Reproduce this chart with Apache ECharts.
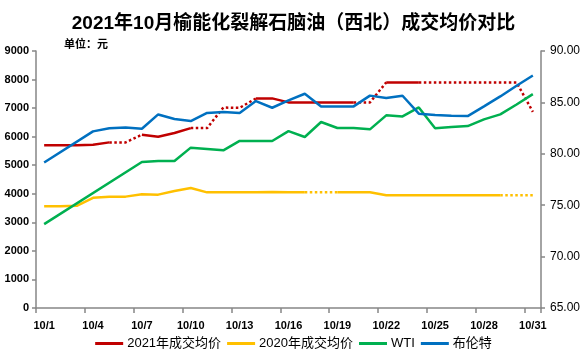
<!DOCTYPE html>
<html>
<head>
<meta charset="utf-8">
<script src="https://cdn.jsdelivr.net/npm/echarts@6/dist/echarts.min.js"></script>
<style>
html,body{margin:0;padding:0;background:#fff;}
#chart{width:587px;height:360px;}
</style>
</head>
<body>
<div id="chart"></div>
<script>
const days = ['10/1','10/2','10/3','10/4','10/5','10/6','10/7','10/8','10/9','10/10','10/11','10/12','10/13','10/14','10/15','10/16','10/17','10/18','10/19','10/20','10/21','10/22','10/23','10/24','10/25','10/26','10/27','10/28','10/29','10/30','10/31'];

const price2021 = [5700,5700,5700,5720,5800,5800,6070,6000,6130,6300,6300,7020,7010,7340,7340,7200,7200,7200,7200,7200,7200,7900,7900,7900,7900,7900,7900,7900,7900,7900,6870];
// day ranges (1-based) drawn dotted
const dotted2021 = [[5,7],[10,14],[20,22],[24,31]];

const price2020 = [3560,3560,3580,3860,3900,3900,3980,3970,4100,4200,4050,4050,4050,4050,4060,4050,4050,4050,4050,4050,4050,3950,3950,3950,3950,3950,3950,3950,3950,3950,3950];
const dotted2020 = [[17,19],[29,31]];

const wti = [73.16,null,null,null,null,null,79.20,79.30,79.30,80.60,80.47,80.34,81.25,81.25,81.25,82.21,81.63,83.09,82.51,82.51,82.38,83.74,83.64,84.51,82.48,82.60,82.70,83.35,83.83,84.80,85.81];
const brent = [79.15,null,null,82.18,82.48,82.57,82.44,83.83,83.38,83.18,83.98,84.06,83.96,85.13,84.48,85.19,85.84,84.61,84.61,84.61,85.66,85.42,85.65,83.90,83.77,83.71,83.67,84.61,85.58,86.62,87.62];

const leftTicks = {min:0, max:9000, interval:1000};
const rightTicks = {min:65, max:90, interval:5};

const C_RED = '#C00000', C_YEL = '#FFC000', C_GRN = '#00B050', C_BLU = '#0070C0';
const FONT = "'Liberation Sans','Noto Sans CJK SC',sans-serif";

// split a series into solid and dotted runs
function buildRuns(name, values, dottedRanges, color) {
  const n = values.length;
  const segDotted = [];
  for (let k = 0; k < n - 1; k++) {
    const day = k + 1; // segment from day to day+1
    segDotted.push(dottedRanges.some(r => day >= r[0] && day + 1 <= r[1]));
  }
  const out = [];
  let k = 0;
  while (k < n - 1) {
    const type = segDotted[k];
    let e = k;
    while (e + 1 < n - 1 && segDotted[e + 1] === type) e++;
    const data = values.map((v, i) => (i >= k && i <= e + 1) ? v : null);
    out.push({
      name: name, type: 'line', yAxisIndex: 0, data: data,
      showSymbol: false, symbol: 'none', connectNulls: false, silent: true,
      z: type ? 2 : 3,
      lineStyle: {color: color, width: 2.5, type: type ? [2.5, 2.5] : 'solid', cap: 'butt'},
      itemStyle: {color: color}
    });
    k = e + 1;
  }
  return out;
}

const series = [].concat(
  buildRuns('2021年成交均价', price2021, dotted2021, C_RED),
  buildRuns('2020年成交均价', price2020, dotted2020, C_YEL),
  [{
    name: 'WTI', type: 'line', yAxisIndex: 1, data: wti, connectNulls: true,
    showSymbol: false, symbol: 'none', lineStyle: {color: C_GRN, width: 2.5}, itemStyle: {color: C_GRN}
  }, {
    name: '布伦特', type: 'line', yAxisIndex: 1, data: brent, connectNulls: true,
    showSymbol: false, symbol: 'none', lineStyle: {color: C_BLU, width: 2.5}, itemStyle: {color: C_BLU}
  }]
);

const chart = echarts.init(document.getElementById('chart'), null, {renderer: 'canvas'});
chart.setOption({
  animation: false,
  backgroundColor: '#ffffff',
  textStyle: {fontFamily: FONT},
  title: [{
    text: '2021年10月榆能化裂解石脑油（西北）成交均价对比',
    left: 'center', top: 9,
    textStyle: {fontSize: 19, fontWeight: 'bold', color: '#000', fontFamily: FONT}
  }, {
    text: '单位：元',
    left: 59, top: 34,
    textStyle: {fontSize: 11, fontWeight: 'bold', color: '#000', fontFamily: FONT}
  }],
  legend: {
    bottom: 5, left: 'center',
    icon: 'rect', itemWidth: 28, itemHeight: 3, itemGap: 6,
    data: ['2021年成交均价', '2020年成交均价', 'WTI', '布伦特'],
    textStyle: {fontSize: 13, color: '#000', fontFamily: FONT, padding: [0, 0, 0, -1]}
  },
  grid: {left: 36, right: 46, top: 51, bottom: 52, containLabel: false},
  xAxis: {
    type: 'category', data: days, boundaryGap: true,
    axisLine: {show: true, lineStyle: {color: '#868686', width: 1.5}},
    axisTick: {show: true, interval: 2, length: 5, lineStyle: {color: '#868686', width: 1.5}},
    axisLabel: {interval: 2, fontSize: 11, fontWeight: 'bold', color: '#000', margin: 12, fontFamily: FONT},
    splitLine: {show: false}
  },
  yAxis: [{
    type: 'value', position: 'left',
    min: leftTicks.min, max: leftTicks.max, interval: leftTicks.interval,
    axisLine: {show: true, lineStyle: {color: '#868686', width: 1.5}},
    axisTick: {show: true, length: 4, lineStyle: {color: '#868686', width: 1.5}},
    axisLabel: {fontSize: 11, fontWeight: 'bold', color: '#000', margin: 7, fontFamily: FONT, formatter: v => String(v)},
    splitLine: {show: false}
  }, {
    type: 'value', position: 'right',
    min: rightTicks.min, max: rightTicks.max, interval: rightTicks.interval,
    axisLine: {show: true, lineStyle: {color: '#868686', width: 1.5}},
    axisTick: {show: true, length: 4, lineStyle: {color: '#868686', width: 1.5}},
    axisLabel: {fontSize: 12, color: '#000', margin: 9, fontFamily: FONT, formatter: v => v.toFixed(2)},
    splitLine: {show: false}
  }],
  series: series
});
</script>
</body>
</html>
